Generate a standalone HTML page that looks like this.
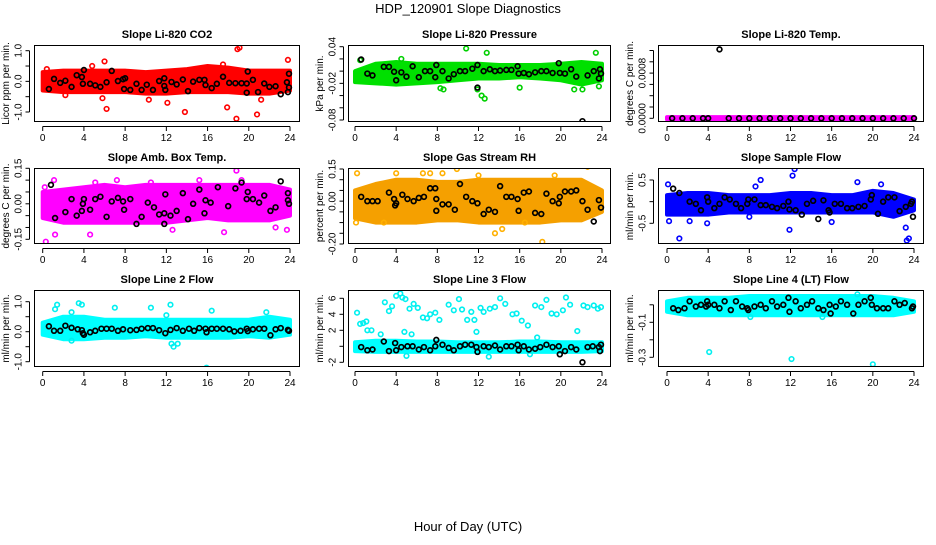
<!DOCTYPE html>
<html><head><meta charset="utf-8"><style>
body{margin:0;background:#fff;}
svg text{font-family:"Liberation Sans",sans-serif;}
</style></head><body>
<svg id="chart" width="936" height="540" xmlns="http://www.w3.org/2000/svg">
<rect width="936" height="540" fill="#fff"/>
<text x="468" y="13" font-size="13" text-anchor="middle">HDP_120901  Slope Diagnostics</text>
<text x="468" y="531" font-size="13" text-anchor="middle">Hour of Day (UTC)</text>
</svg>
<script>
const bandHours=[0,2,4,6,8,10,12,14,16,18,20,22,24];
const xTicks=[0,4,8,12,16,20,24];
// Panel 1 CO2
const p1Upper=[0.3,0.35,0.35,0.35,0.35,0.3,0.35,0.4,0.5,0.45,0.35,0.35,0.35];
const p1Lower=[-0.3,-0.35,-0.35,-0.35,-0.35,-0.4,-0.4,-0.35,-0.35,-0.35,-0.4,-0.4,-0.3];
const p1Out=[[0.4,0.4],[6,0.65],[6.2,-0.9],[5.8,-0.55],[13.8,-1.0],[18.9,1.05],[19.1,1.1],[18.8,-1.22],[20.8,-1.08],[23.8,0.7],[17.9,-0.85],[10.3,-0.6],[12.1,-0.7],[2.2,-0.45],[4.8,0.5],[17.5,0.55],[21.2,-0.6]];
const p1Black=[[0.6,-0.25],[1.1,0.08],[1.7,-0.05],[2.2,0.02],[2.8,-0.18],[3.3,0.2],[3.8,0.14],[3.9,-0.08],[4,0.37],[4.6,-0.08],[5.1,-0.13],[5.6,-0.18],[6.2,-0.03],[6.7,0.34],[7.3,0.01],[7.8,0.07],[7.9,-0.25],[8,0.1],[8.5,-0.28],[9.1,-0.08],[9.6,-0.28],[10.1,-0.11],[10.7,-0.28],[11.3,0.01],[11.8,0.1],[11.8,-0.15],[11.9,-0.28],[12.5,-0.02],[13,-0.1],[13.6,0.06],[14.1,-0.32],[14.6,-0.01],[15.2,0.05],[15.7,0.05],[15.8,-0.12],[16.4,-0.22],[16.9,-0.08],[17.5,0.15],[18.1,-0.05],[18.7,-0.06],[19.3,-0.06],[19.8,-0.07],[19.9,0.32],[19.8,-0.37],[20.4,0.05],[20.9,-0.35],[21.5,-0.07],[22,-0.18],[22.6,-0.16],[23.1,-0.42],[23.7,-0.03],[23.8,-0.35],[23.9,0.25],[23.9,-0.2]];
// Panel 2 Pressure
const p2Upper=[0.0,0.012,0.015,0.012,0.012,0.012,0.012,0.01,0.01,0.01,0.012,0.015,0.012];
const p2Lower=[-0.018,-0.02,-0.022,-0.02,-0.018,-0.015,-0.012,-0.012,-0.01,-0.012,-0.015,-0.022,-0.015];
const p2Out=[[8.3,-0.028],[8.6,-0.03],[10.8,0.037],[12.8,0.03],[11.9,-0.03],[12.3,-0.04],[12.6,-0.045],[16,-0.027],[21.3,-0.03],[22.1,-0.03],[23.4,0.03],[23.7,-0.025],[0.5,0.018],[4.5,0.02]];
const p2Black=[[0.6,0.019],[1.2,-0.004],[1.7,-0.007],[2.8,0.007],[3.3,0.007],[3.8,-0.001],[4,-0.015],[4.5,-0.002],[5,-0.009],[5.6,0.008],[6.2,-0.01],[6.8,0],[7.3,0],[7.8,-0.01],[7.9,0.01],[8.5,0],[9.1,-0.012],[9.6,-0.005],[10.2,0],[10.7,0],[11.4,0.004],[11.9,0.01],[11.9,-0.027],[12.5,0],[13.1,0.003],[13.6,0],[14.1,0.001],[14.7,0.002],[15.2,0.002],[15.8,0.008],[15.9,-0.004],[16.4,-0.003],[16.9,-0.005],[17.5,-0.002],[18.1,0],[18.6,0],[19.2,-0.003],[19.8,0.013],[19.9,-0.003],[20.4,-0.004],[21,0.003],[21.5,-0.009],[22.1,-0.082],[22.6,-0.007],[23.2,0],[23.7,-0.012],[23.8,0.003],[23.9,-0.004]];
// Panel 3 Li-820 Temp
const p3Upper=[0.00002,0.00002,0.00002,0.00002,0.00002,0.00002,0.00002,0.00002,0.00002,0.00002,0.00002,0.00002,0.00002];
const p3Lower=[-0.00002,-0.00002,-0.00002,-0.00002,-0.00002,-0.00002,-0.00002,-0.00002,-0.00002,-0.00002,-0.00002,-0.00002,-0.00002];
const p3Out=[];
const p3Black=[[0.5,0],[1.5,0],[2.5,0],[3.5,0],[4,0],[5.1,0.00122],[6,0],[7,0],[8,0],[9,0],[10,0],[11,0],[12,0],[13,0],[14,0],[15,0],[16,0],[17,0],[18,0],[19,0],[20,0],[21,0],[22,0],[23,0],[24,0]];
// Panel 4 Amb Box Temp
const p4Upper=[0.05,0.06,0.07,0.08,0.07,0.08,0.08,0.08,0.08,0.08,0.08,0.08,0.06];
const p4Lower=[-0.06,-0.08,-0.08,-0.08,-0.08,-0.08,-0.08,-0.07,-0.06,-0.07,-0.07,-0.07,-0.05];
const p4Out=[[0.3,-0.16],[1.1,0.1],[18.8,0.14],[4.6,-0.13],[1.2,-0.13],[17.6,-0.12],[22.6,-0.1],[23.7,-0.11],[15.2,0.1],[7.2,0.1],[0.2,0.07],[5.1,0.09],[10.5,0.09],[12.6,-0.11],[19.3,0.1]];
const p4Black=[[0.8,0.08],[1.2,-0.06],[2.2,-0.035],[2.8,0.02],[3.3,-0.05],[3.8,-0.03],[3.9,0],[4,0.02],[4.6,-0.025],[5.1,0.02],[5.6,0.03],[6.2,-0.055],[6.7,0.01],[7.3,0.025],[7.8,0.01],[7.9,-0.025],[8.5,0.02],[9.1,-0.085],[9.6,-0.055],[10.2,0.005],[10.8,-0.015],[11.3,-0.045],[11.8,-0.04],[11.8,-0.085],[11.9,0.04],[12.4,-0.05],[13,-0.03],[13.6,0.045],[14.1,-0.065],[14.6,0],[15.2,0.06],[15.7,-0.04],[15.8,0.015],[16.3,0.005],[17,0.07],[18,-0.01],[18.7,0.065],[19.3,0.09],[19.8,0.02],[19.9,0.05],[20.4,0.02],[21,0.005],[21.5,0.035],[22.1,-0.03],[22.6,-0.015],[23.1,0.095],[23.8,0.045],[23.8,0.015],[23.9,0]];
// Panel 5 Gas Stream RH
const p5Upper=[0.05,0.08,0.1,0.1,0.09,0.09,0.1,0.1,0.1,0.1,0.1,0.1,0.05];
const p5Lower=[-0.08,-0.1,-0.1,-0.1,-0.09,-0.09,-0.1,-0.1,-0.1,-0.1,-0.09,-0.09,-0.05];
const p5Out=[[0.2,0.13],[18.4,-0.23],[22.6,0.16],[9.9,0.15],[13.6,-0.15],[14.3,-0.13],[6.6,0.13],[7.3,0.13],[8.5,0.13],[18.2,-0.19],[16.5,-0.1],[4.0,0.13],[2.8,-0.1],[0.1,-0.1],[19.4,0.12],[12.0,0.12]];
const p5Black=[[0.6,0.02],[1.2,0],[1.7,0],[2.2,0],[3.3,0.04],[3.8,0.01],[3.9,-0.02],[4,-0.01],[4.6,0.03],[5.1,0.01],[5.7,0],[6.2,0.015],[6.7,0.02],[7.3,0.06],[7.8,0.06],[7.9,0.01],[7.9,-0.045],[8.5,-0.015],[9.1,-0.015],[9.7,-0.04],[10.2,0.08],[10.8,0.02],[11.4,0],[11.9,-0.01],[12.5,-0.06],[13,-0.04],[13.6,-0.05],[14.1,0.07],[14.7,0.02],[15.2,0.02],[15.8,0.01],[15.9,-0.045],[16.4,0.04],[16.9,0.045],[17.5,-0.055],[18.1,-0.06],[18.6,0.035],[19.2,0],[19.8,-0.01],[19.9,0.02],[20.4,0.045],[21,0.045],[21.5,0.05],[22.1,0],[22.6,-0.04],[23.2,-0.095],[23.7,0.005],[23.9,-0.03]];
// Panel 6 Sample Flow
const p6Upper=[0.15,0.2,0.2,0.15,0.15,0.15,0.2,0.2,0.15,0.15,0.25,0.2,0.05];
const p6Lower=[-0.3,-0.3,-0.3,-0.25,-0.25,-0.25,-0.25,-0.25,-0.25,-0.25,-0.25,-0.35,-0.2];
const p6Out=[[1.2,-0.85],[12.2,0.6],[12.4,0.75],[11.9,-0.65],[23.3,-0.9],[23.5,-0.85],[9.1,0.5],[18.5,0.45],[0.1,0.4],[0.2,-0.45],[2.2,-0.45],[3.9,-0.5],[8.0,-0.35],[16.0,-0.47],[20.8,0.4],[23.2,-0.6],[8.6,0.35]];
const p6Black=[[0.6,0.3],[1.2,0.2],[2.2,0],[2.8,-0.05],[3.3,-0.2],[3.9,0.1],[4,0],[4.6,-0.15],[5.1,-0.05],[5.6,0.1],[6.1,0.05],[6.7,-0.05],[7.2,-0.15],[7.8,-0.05],[7.9,0.05],[8.5,0.05],[9.1,-0.08],[9.6,-0.08],[10.2,-0.12],[10.7,-0.15],[11.3,-0.1],[11.8,0],[11.9,-0.18],[12.5,-0.2],[13.1,-0.3],[13.6,-0.05],[14.2,0.02],[14.7,-0.4],[15.2,0.03],[15.7,-0.2],[15.8,-0.25],[16.3,-0.05],[16.9,-0.05],[17.5,-0.15],[18,-0.15],[18.6,-0.12],[19.2,-0.1],[19.8,0.05],[19.9,0.15],[20.5,-0.28],[21,0],[21.5,0.1],[22.1,0.1],[22.6,-0.22],[23.2,-0.12],[23.7,-0.05],[23.8,0],[23.9,-0.35]];
// Panel 7 Line 2 Flow
const p7Upper=[0.3,0.5,0.5,0.4,0.4,0.4,0.4,0.4,0.4,0.4,0.4,0.5,0.4];
const p7Lower=[-0.1,-0.25,-0.25,-0.2,-0.2,-0.15,-0.2,-0.2,-0.2,-0.2,-0.15,-0.2,-0.1];
const p7Out=[[19.5,1.5],[15.9,-1.2],[12.5,-0.4],[12.7,-0.5],[13.1,-0.4],[12.4,0.9],[1.4,0.9],[3.5,0.95],[2.8,0.65],[1.2,0.75],[3.8,0.9],[7.0,0.8],[10.5,0.8],[16.4,0.7],[21.7,0.65],[2.8,-0.3],[12.0,0.55]];
const p7Black=[[0.6,0.18],[1.1,0.03],[1.7,0.03],[2.2,0.2],[2.8,0.13],[3.4,0.08],[3.8,0.05],[3.9,-0.05],[4,-0.1],[4.6,-0.02],[5.1,0.03],[5.7,0.1],[6.2,0.1],[6.7,0.1],[7.3,0.03],[7.8,0.08],[8.5,0.05],[9.1,0.06],[9.6,0.1],[10.2,0.12],[10.7,0.12],[11.3,0.05],[11.9,-0.05],[12.4,0.06],[13,0.12],[13.6,0.03],[14.2,0.1],[14.7,0.03],[15.2,0.12],[15.8,0.1],[15.9,-0.02],[16.4,0.1],[16.9,0.1],[17.5,0.1],[18.1,0.08],[18.6,0.01],[19.2,0.03],[19.8,0.1],[19.9,0.02],[20.4,0.08],[21,0.1],[21.5,0.1],[22.1,-0.12],[22.6,0.08],[23.1,0.12],[23.8,0.06],[23.9,0.03]];
// Panel 8 Line 3 Flow
const p8Upper=[0.5,0.7,0.7,0.6,0.6,0.5,0.5,0.5,0.6,0.6,0.5,0.5,0.5];
const p8Lower=[-0.6,-0.7,-0.7,-0.7,-0.7,-0.7,-0.7,-0.7,-0.7,-0.7,-0.7,-0.7,-0.6];
const p8Out=[[0.2,4.2],[0.5,2.8],[0.8,2.9],[1.1,3.1],[1.2,2],[1.6,2],[2.9,5.5],[3.3,4.4],[3.6,5],[4,6.3],[4.4,6.6],[4.6,6.1],[4.9,5.9],[5.3,4.7],[5.7,5.3],[6.1,4.8],[6.6,3.6],[7,3.5],[7.3,4],[7.8,4.2],[8.2,3.3],[9.1,5.2],[9.6,4.5],[10.1,5.9],[10.4,4.6],[10.9,3.3],[11.3,4.3],[11.6,3.3],[12.2,4.8],[12.5,4.3],[13.1,4.7],[13.6,4.9],[14.1,6],[14.6,5.3],[15.3,4],[15.7,4.1],[16.2,3.2],[16.8,2.6],[17.5,5.1],[18.1,4.9],[18.6,5.8],[19.1,4.1],[19.6,4],[20.2,4.5],[20.5,6.1],[20.9,5.2],[21.6,1.9],[22.2,5.1],[22.6,4.9],[23.2,5.1],[23.6,4.7],[23.9,4.9],[4.8,1.8],[5.5,1.5],[2.5,1.5],[11.8,1.8],[17.7,1.1],[17,-1],[13,-1.3],[5.0,-1.2]];
const p8Black=[[0.6,-0.1],[1.2,-0.5],[1.7,-0.4],[2.8,0.6],[3.3,-0.6],[3.9,0.4],[4,-0.5],[4.5,-0.1],[5.1,0],[5.6,0],[6.2,-0.4],[6.7,-0.1],[7.3,-0.5],[7.8,0],[7.9,0.8],[8.5,0.2],[9.1,-0.2],[9.6,-0.5],[10.2,0],[10.7,0.2],[11.3,0.2],[11.8,-0.1],[11.9,-0.7],[12.5,0],[13,-0.1],[13.6,0.1],[14.1,-0.4],[14.7,0],[15.2,0],[15.8,0.2],[15.9,-0.5],[16.4,0],[16.9,-0.4],[17.5,-0.3],[18,-0.1],[18.6,0.2],[19.2,-0.1],[19.8,0],[19.9,-1],[20.4,-0.6],[21,-0.1],[21.5,-0.4],[22.1,-2],[22.6,-0.1],[23.1,0],[23.7,-0.1],[23.8,-0.6],[23.9,0.2]];
// Panel 9 Line 4 Flow
const p9Upper=[0.02,0.04,0.04,0.04,0.05,0.05,0.05,0.05,0.05,0.05,0.05,0.04,0.02];
const p9Lower=[-0.04,-0.06,-0.06,-0.06,-0.06,-0.06,-0.06,-0.06,-0.06,-0.06,-0.06,-0.06,-0.04];
const p9Out=[[4.1,-0.27],[12.1,-0.31],[20,-0.34],[18.5,0.06],[8.1,-0.07],[15.1,-0.07]];
const p9Black=[[0.6,-0.02],[1.1,-0.03],[1.7,-0.02],[2.2,0.02],[2.8,-0.01],[3.3,0.0],[3.8,-0.01],[3.9,0.02],[4,0.0],[4.6,0.0],[5.1,-0.02],[5.6,0.02],[6.2,-0.03],[6.7,0.02],[7.3,-0.01],[7.8,-0.02],[7.9,-0.03],[8.5,-0.01],[9.1,0.0],[9.6,-0.02],[10.2,0.02],[10.7,-0.01],[11.3,0.0],[11.8,0.04],[11.9,-0.04],[12.5,0.02],[13,-0.02],[13.6,0.0],[14.1,0.02],[14.7,-0.02],[15.2,-0.03],[15.8,0.0],[15.9,-0.05],[16.4,-0.01],[16.9,0.02],[17.5,0.0],[18.1,-0.05],[18.6,0.0],[19.2,0.02],[19.8,0.04],[19.9,0.0],[20.4,-0.02],[21,-0.02],[21.5,-0.02],[22.1,0.02],[22.6,0.0],[23.1,0.01],[23.8,-0.02],[23.9,-0.01]];

const p1Ticks=[-1,-0.5,0,0.5,1], p1Labels=["-1.0","","0.0","","1.0"];
const p2Ticks=[0.04,0.02,0,-0.02,-0.04,-0.06,-0.08], p2Labels=["0.04","","","-0.02","","","-0.08"];
const p3Ticks=[0,0.0002,0.0004,0.0006,0.0008,0.001,0.0012], p3Labels=["0.0000","","","","0.0008","",""];
const p4Ticks=[-0.15,-0.1,-0.05,0,0.05,0.1,0.15], p4Labels=["-0.15","","","0.00","","","0.15"];
const p5Ticks=[0.15,0.1,0.05,0,-0.05,-0.1,-0.15,-0.2], p5Labels=["0.15","","","0.00","","","","-0.20"];
const p6Ticks=[-0.5,0,0.5], p6Labels=["-0.5","","0.5"];
const p7Ticks=[-1,-0.5,0,0.5,1], p7Labels=["-1.0","","0.0","","1.0"];
const p8Ticks=[-2,0,2,4,6], p8Labels=["-2","","2","4","6"];
const p9Ticks=[0,-0.1,-0.2,-0.3], p9Labels=["","-0.1","","-0.3"];

const NS="http://www.w3.org/2000/svg";
const svg=document.getElementById('chart');
function mk(tag,attrs,parent){const e=document.createElementNS(NS,tag);for(const k in attrs)e.setAttribute(k,attrs[k]);(parent||svg).appendChild(e);return e;}

const cols=[{l:34,r:300,x0:42.7,x24:290},{l:348,r:611,x0:355,x24:602},{l:658,r:924,x0:667,x24:914}];
const rows=[{t:45,b:122},{t:168,b:244},{t:290,b:367}];
const panels=[
 {title:"Slope Li-820 CO2",yt:"Licor ppm per min.",c:0,r:0,v1:1,p1:50.7,v2:-1,p2:112,col:"#ff0000",oc:"#ff0000",up:p1Upper,lo:p1Lower,out:p1Out,blk:p1Black,ticks:p1Ticks,labels:p1Labels},
 {title:"Slope Li-820 Pressure",yt:"kPa per min.",c:1,r:0,v1:0.04,p1:46.7,v2:-0.08,p2:120,col:"#00e000",oc:"#00d000",up:p2Upper,lo:p2Lower,out:p2Out,blk:p2Black,ticks:p2Ticks,labels:p2Labels},
 {title:"Slope Li-820 Temp.",yt:"degrees C per min.",c:2,r:0,v1:0,p1:118.3,v2:0.0012,p2:50.5,col:"#ff00ff",oc:"#ff00ff",up:p3Upper,lo:p3Lower,out:p3Out,blk:p3Black,ticks:p3Ticks,labels:p3Labels},
 {title:"Slope Amb. Box Temp.",yt:"degrees C per min.",c:0,r:1,v1:0.15,p1:168.3,v2:-0.15,p2:239.3,col:"#ff00ff",oc:"#ff00ff",up:p4Upper,lo:p4Lower,out:p4Out,blk:p4Black,ticks:p4Ticks,labels:p4Labels},
 {title:"Slope Gas Stream RH",yt:"percent per min.",c:1,r:1,v1:0.15,p1:169,v2:-0.2,p2:244,col:"#f5a000",oc:"#ffb000",up:p5Upper,lo:p5Lower,out:p5Out,blk:p5Black,ticks:p5Ticks,labels:p5Labels},
 {title:"Slope Sample Flow",yt:"ml/min per min.",c:2,r:1,v1:0.5,p1:180,v2:-0.5,p2:223.3,col:"#0000ff",oc:"#0000ff",up:p6Upper,lo:p6Lower,out:p6Out,blk:p6Black,ticks:p6Ticks,labels:p6Labels},
 {title:"Slope Line 2 Flow",yt:"ml/min per min.",c:0,r:2,v1:1,p1:301.7,v2:-1,p2:361.7,col:"#00ffff",oc:"#00f0f0",up:p7Upper,lo:p7Lower,out:p7Out,blk:p7Black,ticks:p7Ticks,labels:p7Labels},
 {title:"Slope Line 3 Flow",yt:"ml/min per min.",c:1,r:2,v1:6,p1:298.3,v2:-2,p2:362.3,col:"#00ffff",oc:"#00f0f0",up:p8Upper,lo:p8Lower,out:p8Out,blk:p8Black,ticks:p8Ticks,labels:p8Labels},
 {title:"Slope Line 4 (LT) Flow",yt:"ml/min per min.",c:2,r:2,v1:0,p1:304.8,v2:-0.3,p2:357.3,col:"#00ffff",oc:"#00f0f0",up:p9Upper,lo:p9Lower,out:p9Out,blk:p9Black,ticks:p9Ticks,labels:p9Labels}
];

panels.forEach((p,i)=>{
 const C=cols[p.c],R=rows[p.r];
 const xs=h=>C.x0+(C.x24-C.x0)*h/24;
 const ys=v=>p.p1+(v-p.v1)*(p.p2-p.p1)/(p.v2-p.v1);
 const g=mk('g',{});
 
 
 const clip=mk('clipPath',{id:'clip'+i},g);
 mk('rect',{x:C.l,y:R.t,width:C.r-C.l,height:R.b-R.t},clip);
 const pg=mk('g',{'clip-path':'url(#clip'+i+')'},g);
 // band
 let pts=bandHours.map((h,k)=>xs(h)+','+ys(p.up[k]));
 pts=pts.concat(bandHours.map((h,k)=>xs(h)+','+ys(p.lo[k])).reverse());
 const band=mk('polygon',{points:pts.join(' '),fill:p.col,stroke:p.col,'stroke-width':4,'stroke-linejoin':'round'},pg);
 
 
 p.out.forEach(d=>{
  const c=mk('circle',{cx:xs(d[0]),cy:ys(d[1]),r:2.3,fill:'none',stroke:p.oc,'stroke-width':1.6},pg);
  
  
 });
 p.blk.forEach(d=>{
  const c=mk('circle',{cx:xs(d[0]),cy:ys(d[1]),r:2.4,fill:'none',stroke:'#000','stroke-width':1.7},pg);
  
  
 });
 // box
 const box=mk('rect',{x:C.l+0.5,y:R.t+0.5,width:C.r-C.l-1,height:R.b-R.t-1,fill:'none',stroke:'#000','stroke-width':1},g);
 
 
 // title
 const t=mk('text',{x:(C.l+C.r)/2,y:R.t-7,'font-size':11,'font-weight':'bold','text-anchor':'middle'},g);
 t.textContent=p.title;
 
 
 // x axis
 mk('line',{x1:xs(0),x2:xs(24),y1:R.b+4.5,y2:R.b+4.5,stroke:'#000'},g);
 xTicks.forEach(h=>{
  mk('line',{x1:xs(h),x2:xs(h),y1:R.b+4.5,y2:R.b+9,stroke:'#000'},g);
  const tl=mk('text',{x:xs(h),y:R.b+19,'font-size':10,'text-anchor':'middle'},g);
  tl.textContent=h;
  
  
 });
 // y axis
 const ax=C.l-4.5;
 const tv=p.ticks.map(ys);
 mk('line',{x1:ax,x2:ax,y1:Math.min(...tv),y2:Math.max(...tv),stroke:'#000'},g);
 p.ticks.forEach((v,k)=>{
  mk('line',{x1:ax-4,x2:ax,y1:ys(v),y2:ys(v),stroke:'#000'},g);
  if(p.labels[k]){
   const yl=mk('text',{x:ax-8,y:ys(v),'font-size':10,'text-anchor':'middle',transform:'rotate(-90 '+(ax-8)+' '+ys(v)+')'},g);
   yl.textContent=p.labels[k];
   
   
  }
 });
 const yx=C.l-25,yy=(R.t+R.b)/2;
 const yt=mk('text',{x:yx,y:yy,'font-size':10,'text-anchor':'middle',transform:'rotate(-90 '+yx+' '+yy+')'},g);
 yt.textContent=p.yt;
 
 
});
</script>
</body></html>
